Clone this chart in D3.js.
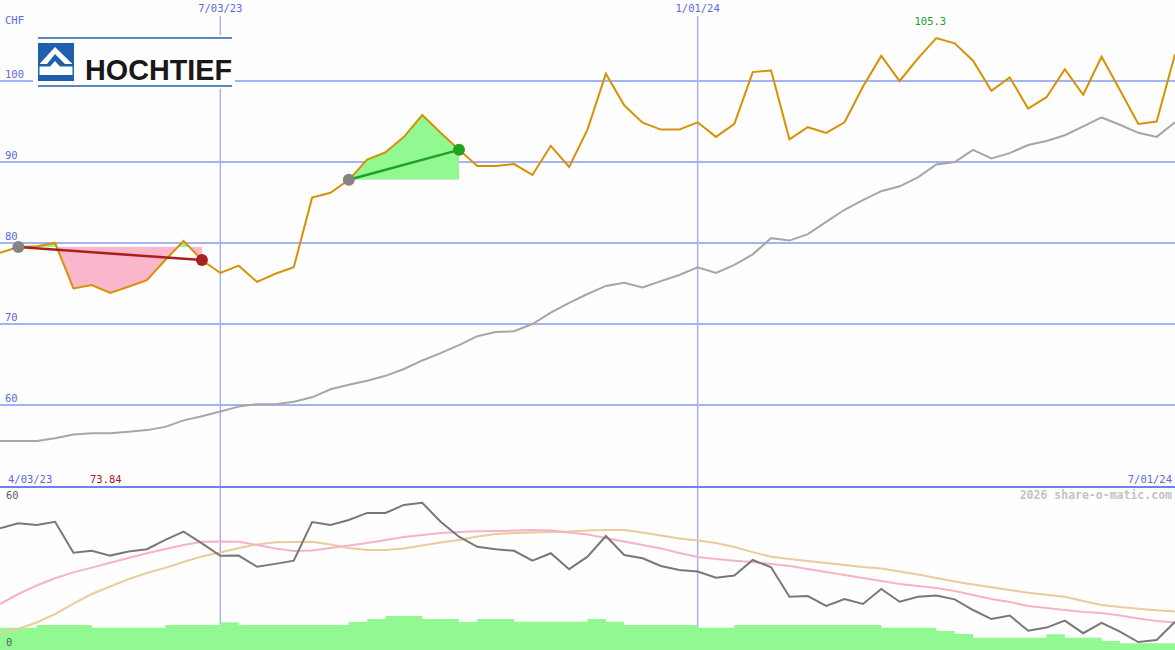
<!DOCTYPE html>
<html>
<head>
<meta charset="utf-8">
<title>HOCHTIEF</title>
<script src="https://cdnjs.cloudflare.com/ajax/libs/d3/7.8.5/d3.min.js"></script>
<style>
  body { margin: 0; background: #fdfefd; }
  text { font-family: "DejaVu Sans Mono", monospace; }
</style>
</head>
<body>
<script>
// weekly closes, CHF (Mon 10 Apr 2023 .. Mon 1 Jul 2024)
var price = [78.8, 79.5, 79.6, 80.0, 74.4, 74.8, 73.84, 74.6, 75.4, 77.9,
             80.25, 77.9, 76.3, 77.2, 75.2, 76.2, 77.0, 85.6, 86.2, 87.8,
             90.3, 91.2, 93.1, 95.8, 93.6, 91.5, 89.5, 89.5, 89.75, 88.4,
             92.0, 89.4, 94.0, 100.9, 97.0, 94.85, 94.0, 94.0, 94.9, 93.1,
             94.7, 101.1, 101.3, 92.8, 94.3, 93.6, 94.9, 99.3, 103.1, 100.0,
             102.8, 105.3, 104.65, 102.5, 98.8, 100.45, 96.6, 98.0, 101.45, 98.3,
             103.0, 98.9, 94.7, 95.0, 103.3];
// slow moving average
var avgSlow = [55.56, 55.56, 55.56, 55.9, 56.36, 56.5, 56.5, 56.7, 56.9, 57.3,
               58.1, 58.6, 59.2, 59.8, 60.1, 60.1, 60.4, 60.95, 61.94, 62.5,
               63.0, 63.6, 64.45, 65.5, 66.4, 67.4, 68.5, 69.0, 69.1, 70.0,
               71.4, 72.6, 73.7, 74.7, 75.1, 74.5, 75.3, 76.05, 77.0, 76.3,
               77.3, 78.6, 80.6, 80.3, 81.1, 82.6, 84.1, 85.3, 86.4, 87.0,
               88.1, 89.7, 90.0, 91.5, 90.45, 91.1, 92.1, 92.6, 93.3, 94.4,
               95.5, 94.6, 93.6, 93.1, 94.9];
// lower panel indicators (0..60)
var indicator = [45.6, 47.5, 46.9, 48.1, 36.5, 37.2, 35.4, 36.9, 37.8, 41.3,
                 44.4, 40.0, 35.3, 35.4, 31.2, 32.3, 33.5, 48.0, 46.9, 48.75,
                 51.4, 51.4, 54.4, 55.2, 48.1, 42.5, 38.7, 37.8, 37.2, 33.5,
                 36.3, 30.3, 35.0, 42.75, 35.6, 34.4, 31.5, 30.0, 29.4, 27.1,
                 27.9, 33.75, 31.0, 20.0, 20.25, 16.5, 19.1, 17.25, 22.9, 18.1,
                 20.0, 20.4, 19.0, 15.0, 11.6, 12.9, 7.2, 8.4, 11.0, 6.3,
                 10.2, 6.9, 3.0, 3.75, 10.6];
var signalFast = [17.25, 21.0, 24.2, 26.9, 29.1, 30.9, 32.7, 34.5, 36.3, 37.9,
                  39.4, 40.6, 40.7, 40.6, 39.4, 38.1, 37.1, 37.3, 38.25, 39.2,
                  40.1, 41.25, 42.4, 43.1, 43.9, 44.25, 44.5, 44.6, 44.8, 45.0,
                  44.8, 44.1, 43.3, 42.0, 40.7, 39.4, 38.1, 36.4, 34.9, 34.1,
                  33.5, 33.0, 32.25, 31.5, 30.4, 29.25, 28.1, 27.0, 25.9, 24.75,
                  24.0, 23.25, 22.1, 20.6, 19.1, 18.0, 16.5, 15.75, 15.0, 14.25,
                  13.9, 12.9, 11.8, 10.9, 10.3];
var signalSlow = [6.25, 8.0, 10.3, 13.5, 17.4, 21.0, 23.8, 26.6, 28.9, 30.8,
                  33.0, 35.1, 36.6, 38.25, 39.6, 40.4, 40.5, 40.6, 39.6, 38.25,
                  37.5, 37.5, 38.1, 39.2, 40.3, 41.25, 42.6, 43.5, 43.9, 44.1,
                  44.25, 44.4, 44.8, 45.0, 45.0, 44.1, 42.9, 41.8, 41.1, 40.1,
                  38.6, 36.7, 34.95, 34.1, 33.4, 32.6, 31.9, 31.1, 30.6, 29.4,
                  28.3, 27.0, 25.7, 24.6, 23.5, 22.5, 21.45, 20.7, 20.0, 18.4,
                  16.9, 16.1, 15.5, 14.9, 14.4];
// volume (relative units)
var volume = [22.3, 22.3, 25, 25, 25, 22.3, 22.3, 22.3, 22.3, 25,
              25, 25, 27.7, 25, 25, 25, 25, 25, 25, 28,
              31, 34, 34, 31, 31, 28, 31, 31, 28.3, 28.3,
              28.3, 28.3, 31, 28.3, 25, 25, 25, 25, 22.3, 22.3,
              25, 25, 25, 25, 25, 25, 25, 25, 22.3, 22.3,
              22.3, 19, 16, 12.3, 12.3, 12.3, 12.3, 15.7, 12.3, 12.3,
              9, 6.7, 6.7, 6.7, 0];
var priceTicks = [60, 70, 80, 90, 100];
var dateTicks = ["2023-07-03", "2024-01-01"];
var trades = [{from: 1, to: 11}, {from: 19, to: 25}];

var W = 1175, H = 650;
var dates = d3.timeMonday.range(new Date(2023, 3, 10), new Date(2024, 6, 2));
var parse = d3.timeParse("%Y-%m-%d");
var fmt = d3.timeFormat("%-m/%d/%y");

var x = d3.scaleTime().domain([dates[0], dates[dates.length - 1]]).range([0, W]);
var y = d3.scaleLinear().domain([60, 100]).range([405, 81]);
var y2 = d3.scaleLinear().domain([0, 60]).range([650, 490]);
var yVol = d3.scaleLinear().domain([0, 160]).range([650, 490]);

var svg = d3.select("body").append("svg")
  .attr("width", W).attr("height", H);

svg.append("rect").attr("width", W).attr("height", H).attr("fill", "#fdfefd");

var grid = "#a6b3f3", blue = "#5a68e6";

// horizontal grid
svg.append("g").selectAll("line").data(priceTicks).join("line")
  .attr("x1", 0).attr("x2", W)
  .attr("y1", function(d) { return y(d); }).attr("y2", function(d) { return y(d); })
  .attr("stroke", grid).attr("stroke-width", 2);

svg.append("g").selectAll("text").data(priceTicks).join("text")
  .attr("x", 5).attr("y", function(d) { return y(d) - 3; })
  .attr("font-size", 10.5).attr("fill", blue)
  .text(function(d) { return d; });

// vertical grid
svg.append("g").selectAll("line").data(dateTicks).join("line")
  .attr("x1", function(d) { return x(parse(d)); }).attr("x2", function(d) { return x(parse(d)); })
  .attr("y1", 16).attr("y2", H)
  .attr("stroke", grid).attr("stroke-width", 1.5);

svg.append("g").selectAll("text").data(dateTicks).join("text")
  .attr("x", function(d) { return x(parse(d)); }).attr("y", 12)
  .attr("text-anchor", "middle").attr("font-size", 10.5).attr("fill", blue)
  .text(function(d) { return fmt(parse(d)); });

svg.append("text").attr("x", 5).attr("y", 24)
  .attr("font-size", 10.5).attr("fill", blue).text("CHF");

// logo
var logo = svg.append("g");
logo.append("rect").attr("x", 33).attr("y", 35).attr("width", 202).attr("height", 54).attr("fill", "#fdfefd");
logo.append("line").attr("x1", 38).attr("x2", 232).attr("y1", 38).attr("y2", 38).attr("stroke", "#2a5ea8").attr("stroke-width", 1.5);
logo.append("line").attr("x1", 38).attr("x2", 232).attr("y1", 86).attr("y2", 86).attr("stroke", "#2a5ea8").attr("stroke-width", 1.5);
logo.append("rect").attr("x", 38).attr("y", 43).attr("width", 36).attr("height", 38).attr("fill", "#1f5fae");
logo.append("path").attr("d", "M39.5,64 L55,47 L72.5,64 L65,64 L55,54 L47,64 Z").attr("fill", "#fff");
logo.append("path").attr("d", "M39.5,66.5 L50,66.5 L55,61 L60,66.5 L72.5,66.5 L72.5,75 L39.5,75 Z").attr("fill", "#fff");
logo.append("text").attr("x", 85).attr("y", 80)
  .style("font-family", "'Liberation Sans', Arial, sans-serif").style("font-weight", "bold")
  .attr("font-size", 30).attr("textLength", 147).attr("lengthAdjust", "spacingAndGlyphs")
  .attr("fill", "#1a1718").text("HOCHTIEF");

// trade fills
var defs = svg.append("defs");
trades.forEach(function(t, k) {
  var seg = d3.range(t.from, t.to + 1);
  var entry = price[t.from];
  var ye = y(entry);
  defs.append("clipPath").attr("id", "above" + k).append("rect")
    .attr("x", 0).attr("y", 0).attr("width", W).attr("height", ye);
  defs.append("clipPath").attr("id", "below" + k).append("rect")
    .attr("x", 0).attr("y", ye).attr("width", W).attr("height", H - ye);
  var area = d3.area()
    .x(function(i) { return x(dates[i]); })
    .y0(ye)
    .y1(function(i) { return y(price[i]); });
  svg.append("path").attr("d", area(seg)).attr("fill", "#92f892").attr("clip-path", "url(#above" + k + ")");
  svg.append("path").attr("d", area(seg)).attr("fill", "#fab6cb").attr("clip-path", "url(#below" + k + ")");
});

// volume bars
var idx = d3.range(dates.length);
var volArea = d3.area()
  .curve(d3.curveStepAfter)
  .x(function(i) { return x(dates[i]); })
  .y0(yVol(0))
  .y1(function(i) { return yVol(volume[i]); });
svg.append("path").attr("d", volArea(idx)).attr("fill", "#92f892");

// lower indicators
function lowerLine(arr, color) {
  var line = d3.line()
    .x(function(i) { return x(dates[i]); })
    .y(function(i) { return y2(arr[i]); });
  svg.append("path").attr("d", line(idx)).attr("fill", "none")
    .attr("stroke", color).attr("stroke-width", 2);
}
lowerLine(signalSlow, "#e8cc9c");
lowerLine(signalFast, "#f8b2c8");
lowerLine(indicator, "#787878");

// slow average and price
var avgLine = d3.line().x(function(i) { return x(dates[i]); }).y(function(i) { return y(avgSlow[i]); });
svg.append("path").attr("d", avgLine(idx)).attr("fill", "none").attr("stroke", "#a6a6a6").attr("stroke-width", 2);

var priceLine = d3.line().x(function(i) { return x(dates[i]); }).y(function(i) { return y(price[i]); });
svg.append("path").attr("d", priceLine(idx)).attr("fill", "none").attr("stroke", "#d69204").attr("stroke-width", 2);

// trade lines and markers
trades.forEach(function(t) {
  var win = price[t.to] > price[t.from];
  var col = win ? "#22a022" : "#a82020";
  svg.append("line")
    .attr("x1", x(dates[t.from])).attr("y1", y(price[t.from]))
    .attr("x2", x(dates[t.to])).attr("y2", y(price[t.to]))
    .attr("stroke", col).attr("stroke-width", 2.5);
  svg.append("circle").attr("cx", x(dates[t.from])).attr("cy", y(price[t.from])).attr("r", 6).attr("fill", "#848484");
  svg.append("circle").attr("cx", x(dates[t.to])).attr("cy", y(price[t.to])).attr("r", 6).attr("fill", col);
});

// panel separator
svg.append("line").attr("x1", 0).attr("x2", W).attr("y1", 487).attr("y2", 487)
  .attr("stroke", "#7080f0").attr("stroke-width", 2);

// labels
var minI = d3.minIndex(price), maxI = d3.maxIndex(price);
svg.append("text").attr("x", 8).attr("y", 483).attr("font-size", 10.5).attr("fill", blue).text("4/03/23");
svg.append("text").attr("x", W - 3).attr("y", 483).attr("text-anchor", "end").attr("font-size", 10.5).attr("fill", blue)
  .text(fmt(dates[dates.length - 1]));
svg.append("text").attr("x", 90).attr("y", 483).attr("font-size", 10.5).attr("fill", "#a82020")
  .text(d3.format(".2f")(price[minI]));
svg.append("text").attr("x", x(dates[maxI]) - 6).attr("y", 25).attr("text-anchor", "middle")
  .attr("font-size", 10.5).attr("fill", "#22a022").text(d3.format(".1f")(price[maxI]));

svg.append("text").attr("x", W - 3).attr("y", 499).attr("text-anchor", "end")
  .attr("font-size", 11.5).attr("font-weight", "bold").attr("fill", "#c4c4c4").text("2026 share-o-matic.com");
svg.append("text").attr("x", 6).attr("y", 499).attr("font-size", 10.5).attr("fill", "#606060").text("60");
svg.append("text").attr("x", 6).attr("y", 646).attr("font-size", 10.5).attr("fill", "#606060").text("0");
</script>
</body>
</html>
